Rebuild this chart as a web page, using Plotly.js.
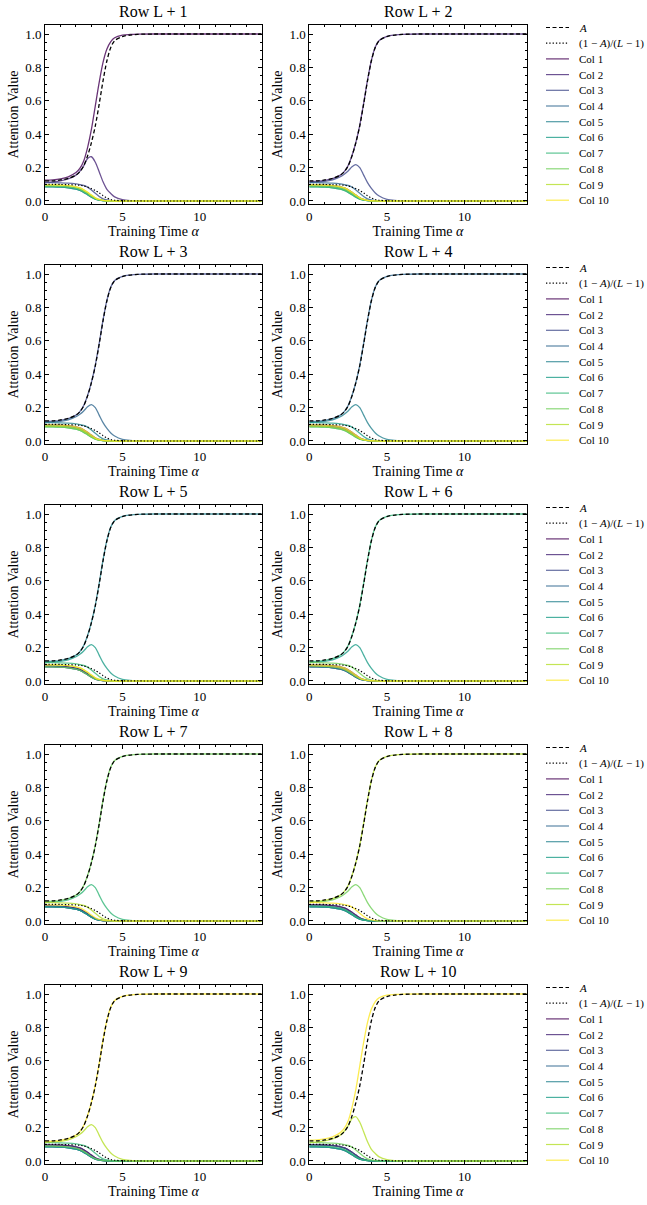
<!DOCTYPE html>
<html><head><meta charset="utf-8">
<script src="https://cdn.plot.ly/plotly-3.0.1.min.js"></script>
<style>body{margin:0;background:#fff}#chart{width:647px;height:1205px}</style>
</head><body><div id="chart"></div>
<script>
// ---------------- data ----------------
const t = [0, 0.5, 1, 1.5, 2, 2.25, 2.5, 2.75, 3, 3.25, 3.5, 3.75, 4, 4.25, 4.5, 5, 5.5, 6, 7, 8, 10, 14];
const A_curve  = [0.120,0.121,0.126,0.135,0.155,0.175,0.210,0.270,0.350,0.450,0.580,0.720,0.840,0.920,0.960,0.985,0.994,0.998,1,1,1,1];
const D_curve  = [0.100,0.100,0.099,0.098,0.096,0.094,0.090,0.083,0.074,0.0625,0.048,0.032,0.018,0.009,0.0045,0.0017,0.0007,0.0002,0,0,0,0];
const mainEdge = [0.125,0.127,0.133,0.145,0.170,0.195,0.240,0.320,0.430,0.570,0.710,0.830,0.910,0.955,0.978,0.993,0.997,0.999,1,1,1,1];
const mainMid  = [0.117,0.119,0.124,0.134,0.155,0.176,0.212,0.272,0.352,0.455,0.585,0.725,0.843,0.922,0.961,0.986,0.994,0.998,1,1,1,1];
const bumpEdge = [0.113,0.115,0.120,0.132,0.155,0.178,0.210,0.255,0.265,0.232,0.175,0.115,0.070,0.045,0.025,0.008,0.002,0.0005,0,0,0,0];
const bumpMid  = [0.112,0.114,0.118,0.127,0.145,0.160,0.180,0.205,0.218,0.200,0.155,0.110,0.075,0.048,0.030,0.010,0.003,0.001,0,0,0,0];
const plateau  = [0.110,0.110,0.109,0.107,0.102,0.098,0.093,0.083,0.066,0.046,0.027,0.013,0.006,0.0025,0.001,0.0003,0,0,0,0,0,0];
const lowA     = [0.097,0.0965,0.095,0.092,0.085,0.078,0.067,0.052,0.035,0.019,0.009,0.004,0.0015,0.0005,0,0,0,0,0,0,0,0];
const lowB     = [0.090,0.0895,0.088,0.085,0.077,0.069,0.058,0.043,0.027,0.014,0.006,0.0025,0.001,0.0003,0,0,0,0,0,0,0,0];
const lowC     = [0.085,0.0845,0.083,0.079,0.071,0.063,0.052,0.038,0.023,0.011,0.005,0.002,0.0007,0.0002,0,0,0,0,0,0,0,0];

// role of each column (Col 1..10) in each row panel: M=rises to 1, B=bump, P=plateau, a/b/c = decaying
const rowRoles = [
  "MBPbccbbaa",
  "aMBPbccbaa",
  "abMBPbccba",
  "abbMBPccba",
  "bbccMBPcaa",
  "abcccBMPba",
  "bbccccBMPa",
  "aabcccbBMP",
  "aabcccPbBM",
  "aaacccbPBM"
];
const edgeRows = [0, 9];
const panelTitles = ["Row L + 1","Row L + 2","Row L + 3","Row L + 4","Row L + 5","Row L + 6","Row L + 7","Row L + 8","Row L + 9","Row L + 10"];
const colNames = ["Col 1","Col 2","Col 3","Col 4","Col 5","Col 6","Col 7","Col 8","Col 9","Col 10"];
const refNames = ["<i>A</i>", "(1 − <i>A</i>)/(<i>L</i> − 1)"];
const xTicks = [0, 5, 10];
const yTicks = [0.0, 0.2, 0.4, 0.6, 0.8, 1.0];

// ---------------- styles ----------------
const viridis = ["#440154","#482878","#3e4989","#31688e","#26828e","#1f9e89","#35b779","#6ece58","#b5de2b","#fde725"];
function rgba(hex, a){const n=parseInt(hex.slice(1),16);return `rgba(${n>>16&255},${n>>8&255},${n&255},${a})`;}
const FONT = "Liberation Serif, Times New Roman, DejaVu Serif, serif";
const W = 647, H = 1205;
const px2y = v => 1 - v / H;
const rowTop0 = 25, rowBot0 = 204, rowStep = 240;
const xDom = [[45/W, 261.7/W], [309.3/W, 526.7/W]];

const traces = [];
const layout = {
  width: W, height: H, margin: {l:0, r:0, t:0, b:0},
  paper_bgcolor: "#fff", plot_bgcolor: "#fff", showlegend: false,
  font: {family: FONT, color: "#000", size: 12},
  annotations: [], shapes: []
};

for (let p = 0; p < 10; p++) {
  const r = Math.floor(p / 2), c = p % 2;
  const xa = p === 0 ? "x" : "x" + (p + 1);
  const ya = p === 0 ? "y" : "y" + (p + 1);
  const edge = edgeRows.includes(p);
  const roles = rowRoles[p];
  for (let j = 0; j < 10; j++) {
    const role = roles[j];
    let y;
    if (role === "M") y = edge ? mainEdge : mainMid;
    else if (role === "B") y = edge ? bumpEdge : bumpMid;
    else if (role === "P") y = plateau;
    else if (role === "a") y = lowA;
    else if (role === "b") y = lowB;
    else y = lowC;
    traces.push({x: t, y: y, xaxis: xa, yaxis: ya, type: "scatter", mode: "lines",
      name: colNames[j], hoverinfo: "skip",
      line: {color: rgba(viridis[j], 0.8), width: 1.3, shape: "spline", smoothing: 0.8}});
  }
  traces.push({x: t, y: A_curve, xaxis: xa, yaxis: ya, type: "scatter", mode: "lines", name: "A", hoverinfo: "skip",
    line: {color: "#000", width: 1.3, dash: "4px,2.5px", shape: "spline", smoothing: 0.8}});
  traces.push({x: t, y: D_curve, xaxis: xa, yaxis: ya, type: "scatter", mode: "lines", name: "D", hoverinfo: "skip",
    line: {color: "#000", width: 1.2, dash: "1.3px,2px", shape: "spline", smoothing: 0.8}});

  const top = rowTop0 + rowStep * r, bot = rowBot0 + rowStep * r;
  const axBase = {showline: true, linecolor: "#000", linewidth: 1, mirror: "allticks",
    ticks: "inside", ticklen: 4, tickwidth: 1, tickcolor: "#000", showgrid: false, zeroline: false,
    tickfont: {family: FONT, size: 13, color: "#000"}, automargin: false, fixedrange: true};
  layout[(p === 0 ? "xaxis" : "xaxis" + (p + 1))] = Object.assign({}, axBase, {
    domain: xDom[c], anchor: ya, range: [0, 14], tickvals: xTicks, ticktext: xTicks.map(String),
    minor: {dtick: 1, ticklen: 2, ticks: "inside", tickcolor: "#000"},
    title: {text: "Training Time <i>α</i>", font: {family: FONT, size: 14, color: "#000"}, standoff: 2}
  });
  layout[(p === 0 ? "yaxis" : "yaxis" + (p + 1))] = Object.assign({}, axBase, {
    domain: [px2y(bot), px2y(top)], anchor: xa, range: [-0.018, 1.054], tickvals: yTicks,
    ticktext: yTicks.map(v => v.toFixed(1)),
    minor: {dtick: 0.05, ticklen: 2, ticks: "inside", tickcolor: "#000"},
    title: {text: "Attention Value", font: {family: FONT, size: 14, color: "#000"}, standoff: 3}
  });
  layout.annotations.push({text: panelTitles[p], xref: "paper", yref: "paper",
    x: (xDom[c][0] + xDom[c][1]) / 2, y: px2y(top - 3), xanchor: "center", yanchor: "bottom",
    showarrow: false, font: {family: FONT, size: 16, color: "#000"}});
}

// legends (one per row, on the right)
const legX0 = 546 / W, legX1 = 569 / W, legTX = 577 / W;
for (let r = 0; r < 5; r++) {
  const top = rowTop0 + rowStep * r;
  const entries = [
    {name: refNames[0], color: "#000", dash: "dash"},
    {name: refNames[1], color: "#000", dash: "dot"}
  ].concat(colNames.map((n, j) => ({name: n, color: rgba(viridis[j], 0.8), dash: "solid"})));
  entries.forEach((e, i) => {
    const yy = px2y(top + 2.5 + 15.7 * i);
    layout.shapes.push({type: "line", xref: "paper", yref: "paper", x0: legX0, x1: legX1, y0: yy, y1: yy,
      line: {color: e.color, width: 1.2, dash: e.dash === "dash" ? "4px,2.5px" : (e.dash === "dot" ? "1.3px,2px" : "solid")}});
    layout.annotations.push({text: e.name, xref: "paper", yref: "paper", x: legTX, y: yy,
      xanchor: "left", yanchor: "middle", showarrow: false, font: {family: FONT, size: 11, color: "#000"}});
  });
}

Plotly.newPlot("chart", traces, layout, {staticPlot: true, displayModeBar: false});
</script></body></html>
